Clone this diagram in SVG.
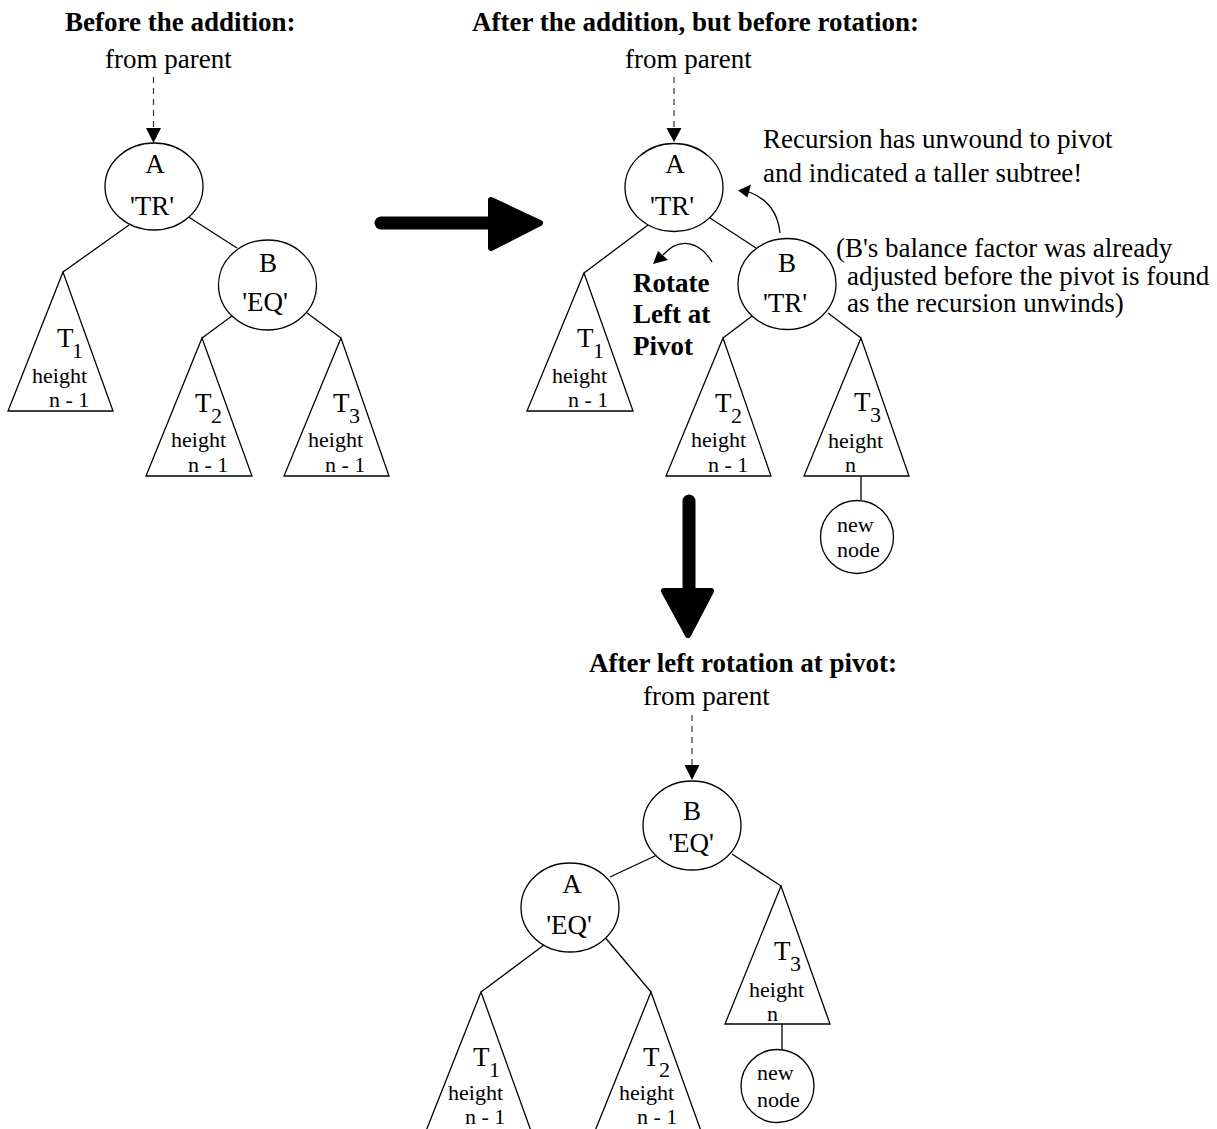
<svg xmlns="http://www.w3.org/2000/svg" width="1217" height="1129" viewBox="0 0 1217 1129">
<style>
.ln{stroke:#000;stroke-width:1.3;fill:none}
.ds{stroke:#333;stroke-width:1.2;stroke-dasharray:6 5;fill:none}
.nd{fill:#fff;stroke:#000;stroke-width:1.3}
.hd{fill:#000}
.big{stroke:#000;stroke-width:13;stroke-linecap:round;fill:none}
.bh{fill:#000;stroke:#000;stroke-width:6;stroke-linejoin:round}
text{font-family:"Liberation Serif","Times New Roman",serif;fill:#000}
.t{font-size:27px}
.b{font-size:27px;font-weight:bold}
.s{font-size:22px}
.m{text-anchor:middle}
</style>
<rect width="1217" height="1129" fill="#fff"/>

<!-- headings and annotations -->
<g id="labels">
<text class="b" x="65" y="31">Before the addition:</text>
<text class="b" x="472" y="31">After the addition, but before rotation:</text>
<text class="b" x="589" y="672">After left rotation at pivot:</text>
<text class="t" x="105" y="68">from parent</text>
<text class="t" x="625" y="68">from parent</text>
<text class="t" x="643" y="705">from parent</text>
<text class="t" x="763" y="148">Recursion has unwound to pivot</text>
<text class="t" x="763" y="182">and indicated a taller subtree!</text>
<text class="t" x="836" y="257">(B's balance factor was already</text>
<text class="t" x="847" y="285">adjusted before the pivot is found</text>
<text class="t" x="847" y="312">as the recursion unwinds)</text>
<text class="b" x="633" y="292">Rotate</text>
<text class="b" x="633" y="323">Left at</text>
<text class="b" x="633" y="355">Pivot</text>
</g>

<!-- connectors -->
<g id="connectors">
<!-- tree 1 -->
<line class="ds" x1="153.5" y1="77" x2="153.5" y2="129"/>
<polygon class="hd" points="146,128 161,128 153.5,143"/>
<line class="ln" x1="129" y1="225" x2="63" y2="272"/>
<line class="ln" x1="187" y1="216" x2="237" y2="248"/>
<line class="ln" x1="236" y1="313" x2="202" y2="338"/>
<line class="ln" x1="307" y1="313" x2="341" y2="338"/>
<!-- tree 2 -->
<line class="ds" x1="674" y1="77" x2="674" y2="129"/>
<polygon class="hd" points="666.5,128 681.5,128 674,142"/>
<line class="ln" x1="648" y1="225" x2="584" y2="273"/>
<line class="ln" x1="707" y1="216" x2="756" y2="248"/>
<line class="ln" x1="756" y1="313" x2="723" y2="338"/>
<line class="ln" x1="828" y1="313" x2="861" y2="338"/>
<line class="ln" x1="861" y1="476" x2="861" y2="500"/>
<path class="ln" d="M780,233 C778,214 768,199 749,192"/>
<polygon class="hd" points="738,190.5 751,184.5 747.5,197.5"/>
<path class="ln" d="M712,262 C700,242 680,236 663,255"/>
<polygon class="hd" points="653,264 658,251 668,260"/>
<!-- tree 3 -->
<line class="ds" x1="692" y1="715" x2="692" y2="766"/>
<polygon class="hd" points="684.5,765 699.5,765 692,780"/>
<line class="ln" x1="657" y1="855" x2="610" y2="877"/>
<line class="ln" x1="544" y1="945" x2="481" y2="992"/>
<line class="ln" x1="603" y1="935" x2="651" y2="992"/>
<line class="ln" x1="732" y1="854" x2="781" y2="886"/>
<line class="ln" x1="782" y1="1024" x2="782" y2="1049"/>
<!-- big transition arrows -->
<line class="big" x1="381" y1="223" x2="492" y2="223"/>
<polygon class="bh" points="491,200 540,223 491,248"/>
<line class="big" x1="689" y1="501" x2="689" y2="592"/>
<polygon class="bh" points="664,591 711,591 688,635"/>
</g>

<!-- tree 1 nodes -->
<g id="t1-A"><ellipse class="nd" cx="154" cy="186.5" rx="49" ry="43.5"/>
<text class="t m" x="155" y="173">A</text><text class="t m" x="152" y="215">'TR'</text></g>
<g id="t1-B"><ellipse class="nd" cx="267.5" cy="285" rx="49" ry="45"/>
<text class="t m" x="268" y="272">B</text><text class="t m" x="265" y="311">'EQ'</text></g>
<g id="t1-T1"><polygon class="nd" points="63,272 8,411 113,411"/>
<text class="t" x="57" y="347">T</text><text class="s" x="72" y="358">1</text>
<text class="s" x="32" y="383">height</text><text class="s" x="49" y="407">n - 1</text></g>
<g id="t1-T2"><polygon class="nd" points="202,338 146,476 252,476"/>
<text class="t" x="195" y="412">T</text><text class="s" x="211" y="423">2</text>
<text class="s" x="171" y="447">height</text><text class="s" x="188" y="472">n - 1</text></g>
<g id="t1-T3"><polygon class="nd" points="341,338 284,476 389,476"/>
<text class="t" x="333" y="412">T</text><text class="s" x="349" y="423">3</text>
<text class="s" x="308" y="447">height</text><text class="s" x="325" y="472">n - 1</text></g>

<!-- tree 2 nodes -->
<g id="t2-A"><ellipse class="nd" cx="674" cy="187.5" rx="49" ry="44"/>
<text class="t m" x="675" y="173">A</text><text class="t m" x="672" y="215">'TR'</text></g>
<g id="t2-B"><ellipse class="nd" cx="787" cy="284" rx="49" ry="45.5"/>
<text class="t m" x="787" y="272">B</text><text class="t m" x="785" y="312">'TR'</text></g>
<g id="t2-T1"><polygon class="nd" points="584,273 527,411 633,411"/>
<text class="t" x="577" y="347">T</text><text class="s" x="593" y="358">1</text>
<text class="s" x="552" y="383">height</text><text class="s" x="568" y="407">n - 1</text></g>
<g id="t2-T2"><polygon class="nd" points="723,338 666,476 771,476"/>
<text class="t" x="715" y="412">T</text><text class="s" x="731" y="423">2</text>
<text class="s" x="691" y="447">height</text><text class="s" x="708" y="472">n - 1</text></g>
<g id="t2-T3"><polygon class="nd" points="861,338 804,476 909,476"/>
<text class="t" x="854" y="411">T</text><text class="s" x="870" y="422">3</text>
<text class="s" x="828" y="448">height</text><text class="s" x="845" y="472">n</text></g>
<g id="t2-new"><circle class="nd" cx="857" cy="537" r="36.5"/>
<text class="s" x="837" y="532">new</text><text class="s" x="837" y="557">node</text></g>

<!-- tree 3 nodes -->
<g id="t3-B"><ellipse class="nd" cx="692" cy="825.5" rx="49" ry="44.5"/>
<text class="t m" x="692" y="820">B</text><text class="t m" x="691" y="852">'EQ'</text></g>
<g id="t3-A"><ellipse class="nd" cx="570" cy="907.5" rx="49" ry="44.5"/>
<text class="t m" x="572" y="893">A</text><text class="t m" x="569" y="934">'EQ'</text></g>
<g id="t3-T1"><polygon class="nd" points="481,992 426,1131 531,1131"/>
<text class="t" x="473" y="1066">T</text><text class="s" x="489" y="1077">1</text>
<text class="s" x="448" y="1100">height</text><text class="s" x="465" y="1124">n - 1</text></g>
<g id="t3-T2"><polygon class="nd" points="651,992 595,1131 701,1131"/>
<text class="t" x="643" y="1066">T</text><text class="s" x="659" y="1077">2</text>
<text class="s" x="619" y="1100">height</text><text class="s" x="637" y="1124">n - 1</text></g>
<g id="t3-T3"><polygon class="nd" points="781,886 725,1024 830,1024"/>
<text class="t" x="774" y="960">T</text><text class="s" x="790" y="971">3</text>
<text class="s" x="749" y="997">height</text><text class="s" x="767" y="1021">n</text></g>
<g id="t3-new"><circle class="nd" cx="777.5" cy="1086" r="36.5"/>
<text class="s" x="757" y="1080">new</text><text class="s" x="757" y="1107">node</text></g>
</svg>
